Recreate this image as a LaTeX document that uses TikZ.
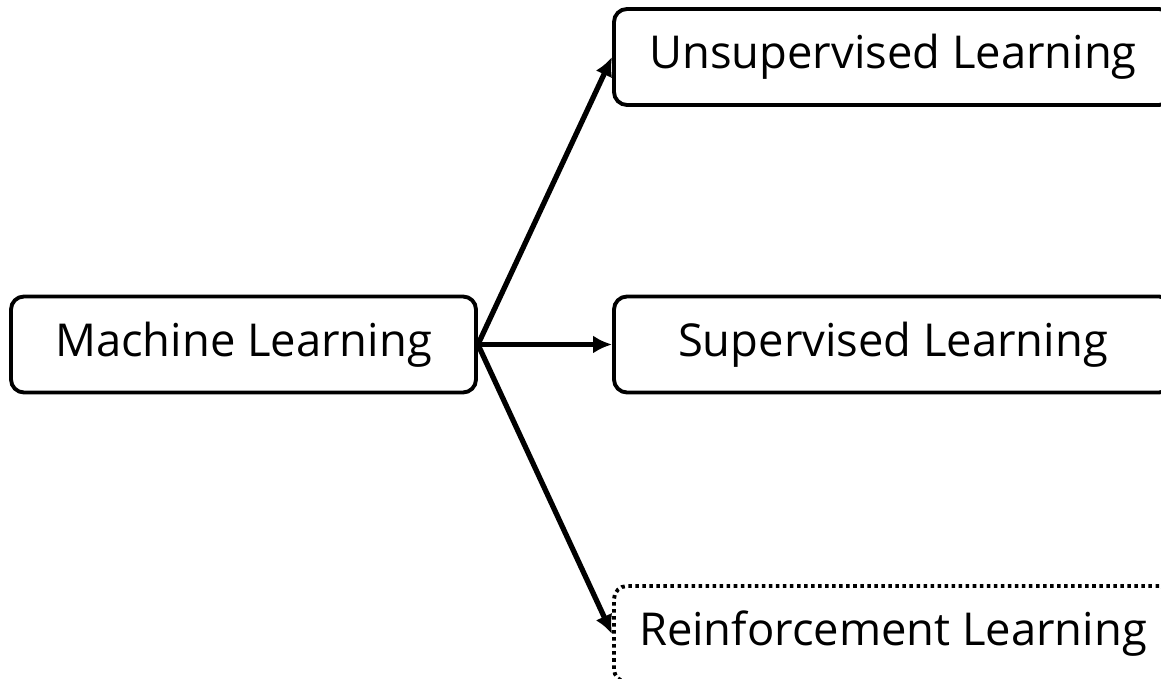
\documentclass[tikz,border=0pt]{standalone}
\usepackage{fontspec}
\setmainfont{Open Sans}
\usepackage{tikz}
\usetikzlibrary{arrows.meta}
\usetikzlibrary{positioning}
\tikzstyle{line} = [draw, line width=1.5pt, -{Latex[length=1.9mm,width=1.8mm]}]

\begin{document}
\begin{tikzpicture}[
				box/.style = {draw, rounded corners=1.3mm, line width=1.1pt,
					minimum height=0.96cm, font=\fontsize{12.9}{15}\selectfont}]
				
				\useasboundingbox (0,0) rectangle (11.61,6.79);
				\clip (0,0) rectangle (11.61,6.79);
				
				% Root
				\node[box, minimum width=4.65cm] (ml) at (2.435,3.345) {Machine Learning};
				
				% Kinds of learning
				\node[box, minimum width=5.58cm] (unsup) at (8.93,6.22) {Unsupervised Learning};
				\node[box, minimum width=5.58cm] (sup) at (8.93,3.345) {Supervised Learning};
				\node[box, minimum width=5.58cm, dash pattern=on 1pt off 1pt] (rl) at (8.93,0.45) {Reinforcement Learning};
				
				% Arrows
				\path[line] (ml.east) -- (unsup.west);
				\path[line] (ml.east) -- (sup.west);
				\path[line] (ml.east) -- (rl.west);
				
			\end{tikzpicture}
\end{document}
